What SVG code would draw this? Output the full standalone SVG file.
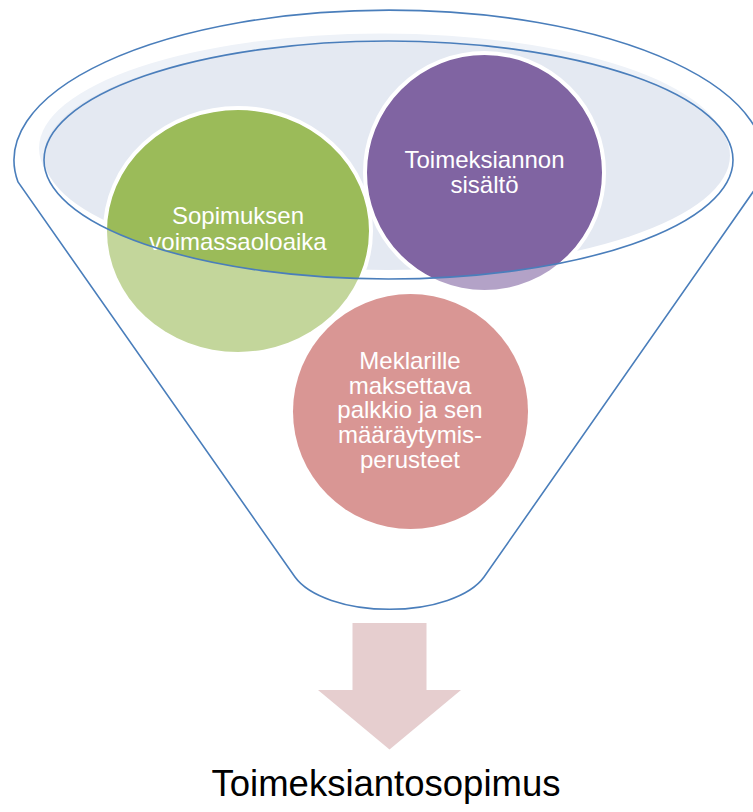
<svg xmlns="http://www.w3.org/2000/svg" width="753" height="812" viewBox="0 0 753 812">
<style>
.rim{fill:none;stroke:#4A7EBB;stroke-width:1.6}
.lbl{font-family:"Liberation Sans",Arial,sans-serif;font-size:24px;fill:#FFFFFF;text-anchor:middle}
.big{font-family:"Liberation Sans",Arial,sans-serif;font-size:36.5px;fill:#000000;text-anchor:middle}
.edge{stroke:#FFFFFF;stroke-width:4}
</style>
<defs>
<clipPath id="rimClip"><ellipse cx="388.5" cy="160" rx="344.5" ry="119"/></clipPath>
</defs>
<rect width="753" height="812" fill="#FFFFFF"/>
<g id="funnel">
<path class="rim" d="M 18 182 A 375 150 0 1 1 760 182 L 484 577 A 100 48 0 0 1 295 577 Z"/>
<ellipse cx="382" cy="148" rx="343" ry="114.5" fill="#EEF2F8"/>
<ellipse cx="387" cy="155.5" rx="343" ry="114.5" fill="#E4E9F2"/>
</g>
<g id="node-sopimuksen">
<ellipse cx="238" cy="231" rx="131" ry="121" fill="#C3D69B"/>
<g clip-path="url(#rimClip)"><ellipse class="edge" cx="238" cy="231" rx="133" ry="123" fill="#9BBB59"/></g>
<text class="lbl" x="238" y="224">Sopimuksen</text>
<text class="lbl" x="238" y="249.5">voimassaoloaika</text>
</g>
<g id="node-toimeksiannon">
<circle cx="484.5" cy="172.5" r="117.5" fill="#B3A2C7"/>
<g clip-path="url(#rimClip)"><circle class="edge" cx="484.5" cy="172.5" r="119.5" fill="#8064A2"/></g>
<text class="lbl" x="484.5" y="168">Toimeksiannon</text>
<text class="lbl" x="484.5" y="193">sisältö</text>
</g>
<g id="node-meklarille">
<circle cx="410.5" cy="411.5" r="117.5" fill="#D99694"/>
<text class="lbl" x="410" y="369">Meklarille</text>
<text class="lbl" x="410" y="393.5">maksettava</text>
<text class="lbl" x="410" y="418">palkkio ja sen</text>
<text class="lbl" x="410" y="443">määräytymis-</text>
<text class="lbl" x="410" y="468">perusteet</text>
</g>
<g id="funnel-rim">
<ellipse class="rim" cx="388.5" cy="160" rx="344.5" ry="119"/>
</g>
<g id="connectors">
<polygon points="352.5,623 426.5,623 426.5,690 461,690 389.5,749.5 318,690 352.5,690" fill="#E6CECF"/>
</g>
<g id="result">
<text class="big" x="386" y="796">Toimeksiantosopimus</text>
</g>
</svg>
